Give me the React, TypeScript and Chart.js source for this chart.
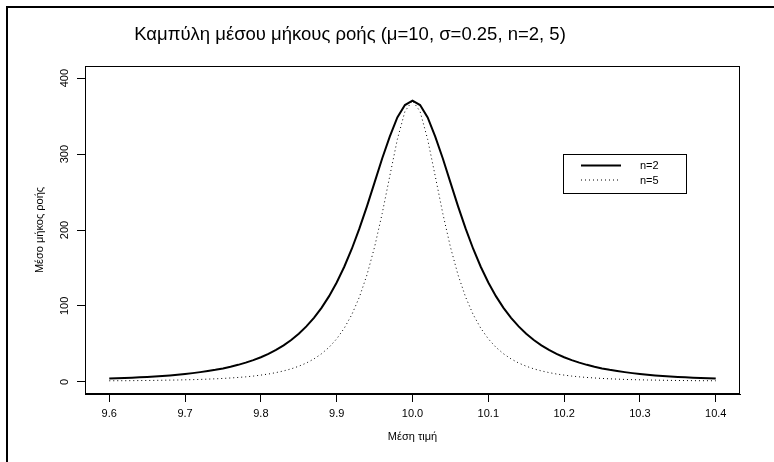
import React, { useEffect, useRef } from "react";
import { Chart, registerables } from "chart.js";

Chart.register(...registerables);

const chartTitle = "Καμπύλη μέσου μήκους ροής (μ=10, σ=0.25, n=2, 5)";
const xAxisTitle = "Μέση τιμή";
const yAxisTitle = "Μέσο μήκος ροής";
const seriesLabels = ["n=2", "n=5"];

// process mean grid (x), 9.60 .. 10.40
const meanValues = Array.from({ length: 81 }, (_, i) => +(9.6 + i * 0.01).toFixed(2));

const arlN2 = [
  4.3, 4.7, 5.1, 5.5, 6.0, 6.5, 7.1, 7.8, 8.5, 9.4, 10.4, 11.5, 12.8, 14.2, 15.8, 17.7, 19.9, 22.4, 25.3, 28.6,
  32.4, 36.9, 42.1, 48.1, 55.1, 63.4, 73.0, 84.3, 97.5, 112.9, 130.9, 151.6, 175.3, 202.1, 231.5, 262.7, 294.2, 322.9, 348.3, 364.6,
  370.4,
  364.6, 348.3, 322.9, 294.2, 262.7, 231.5, 202.1, 175.3, 151.6, 130.9, 112.9, 97.5, 84.3, 73.0, 63.4, 55.1, 48.1, 42.1, 36.9, 32.4,
  28.6, 25.3, 22.4, 19.9, 17.7, 15.8, 14.2, 12.8, 11.5, 10.4, 9.4, 8.5, 7.8, 7.1, 6.5, 6.0, 5.5, 5.1, 4.7, 4.3,
];

const arlN5 = [
  1.4, 1.5, 1.5, 1.6, 1.7, 1.8, 1.9, 2.1, 2.3, 2.4, 2.7, 2.9, 3.2, 3.6, 4.0, 4.5, 5.1, 5.8, 6.6, 7.6,
  8.9, 10.3, 12.2, 14.4, 17.1, 20.6, 24.8, 30.2, 37.0, 45.6, 56.6, 70.7, 88.7, 111.8, 141.1, 177.7, 221.6, 270.9, 319.3, 356.1,
  370.4,
  356.1, 319.3, 270.9, 221.6, 177.7, 141.1, 111.8, 88.7, 70.7, 56.6, 45.6, 37.0, 30.2, 24.8, 20.6, 17.1, 14.4, 12.2, 10.3, 8.9,
  7.6, 6.6, 5.8, 5.1, 4.5, 4.0, 3.6, 3.2, 2.9, 2.7, 2.4, 2.3, 2.1, 1.9, 1.8, 1.7, 1.6, 1.5, 1.5, 1.4,
];

const xTicks = [9.6, 9.7, 9.8, 9.9, 10.0, 10.1, 10.2, 10.3, 10.4];
const yTicks = [0, 100, 200, 300, 400];

const FONT = '"Liberation Sans", Arial, sans-serif';

const decorPlugin = {
  id: "decor",
  afterDraw(chart: any) {
    const ctx = chart.ctx;
    const ca = chart.chartArea;
    ctx.save();
    // outer frame
    ctx.fillStyle = "#000";
    ctx.fillRect(6, 6, 2, 462);
    ctx.fillRect(6, 6, 774, 2);
    // plot box
    ctx.strokeStyle = "#000";
    ctx.lineWidth = 1;
    ctx.setLineDash([]);
    ctx.strokeRect(Math.round(ca.left) + 0.5, Math.round(ca.top) + 0.5, Math.round(ca.right - ca.left) - 1, Math.round(ca.bottom - ca.top) - 1);
    // title
    ctx.fillStyle = "#000";
    ctx.font = `18.5px ${FONT}`;
    ctx.textAlign = "center";
    ctx.textBaseline = "middle";
    ctx.fillText(chartTitle, 350, 35);
    // legend
    const lx = 563.5, ly = 154.5, lw = 123, lh = 39;
    ctx.fillStyle = "#fff";
    ctx.fillRect(lx, ly, lw, lh);
    ctx.strokeStyle = "#000";
    ctx.lineWidth = 1;
    ctx.strokeRect(lx, ly, lw, lh);
    const dsets = chart.data.datasets;
    const rows = [165.5, 180];
    dsets.forEach((ds: any, i: number) => {
      ctx.strokeStyle = ds.borderColor;
      ctx.lineWidth = ds.borderWidth;
      ctx.setLineDash(ds.borderDash || []);
      ctx.beginPath();
      ctx.moveTo(581, rows[i]);
      ctx.lineTo(621, rows[i]);
      ctx.stroke();
      ctx.setLineDash([]);
      ctx.fillStyle = "#000";
      ctx.font = `11px ${FONT}`;
      ctx.textAlign = "left";
      ctx.textBaseline = "middle";
      ctx.fillText(ds.label, 640, rows[i] + 0.5);
    });
    ctx.restore();
  },
};

export default function App() {
  const ref = useRef<HTMLCanvasElement | null>(null);
  useEffect(() => {
    if (!ref.current) return;
    const chart = new Chart(ref.current, {
      type: "line",
      data: {
        datasets: [
          {
            label: seriesLabels[0],
            data: meanValues.map((x, i) => ({ x, y: arlN2[i] })),
            borderColor: "#000",
            borderWidth: 2,
            pointRadius: 0,
            tension: 0,
            fill: false,
          },
          {
            label: seriesLabels[1],
            data: meanValues.map((x, i) => ({ x, y: arlN5[i] })),
            borderColor: "#000",
            borderWidth: 1,
            borderDash: [1, 3],
            pointRadius: 0,
            tension: 0,
            fill: false,
          },
        ],
      },
      options: {
        responsive: false,
        animation: false,
        devicePixelRatio: 1,
        layout: { padding: { left: 0, top: 66, right: 34, bottom: 0 } },
        plugins: { legend: { display: false }, title: { display: false }, tooltip: { enabled: false } },
        scales: {
          x: {
            type: "linear",
            min: 9.568,
            max: 10.432,
            bounds: "data",
            afterBuildTicks: (s: any) => {
              s.ticks = xTicks.map((v) => ({ value: v }));
            },
            afterFit: (s: any) => {
              s.height = 68;
            },
            ticks: {
              autoSkip: false,
              maxRotation: 0,
              minRotation: 0,
              color: "#000",
              padding: 5,
              font: { family: FONT, size: 11 },
              callback: (v: any) => Number(v).toFixed(1),
            },
            grid: { display: true, drawOnChartArea: false, drawTicks: true, tickLength: 8, color: "#000", lineWidth: 1 },
            border: { display: true, color: "#000", width: 1 },
            title: { display: true, text: xAxisTitle, color: "#000", font: { family: FONT, size: 11 }, padding: { top: 0, bottom: 18 } },
          },
          y: {
            type: "linear",
            min: -16,
            max: 416,
            bounds: "data",
            afterBuildTicks: (s: any) => {
              s.ticks = yTicks.map((v) => ({ value: v }));
            },
            afterFit: (s: any) => {
              s.width = 85;
            },
            ticks: {
              autoSkip: false,
              minRotation: 90,
              maxRotation: 90,
              crossAlign: "center",
              color: "#000",
              padding: 3,
              font: { family: FONT, size: 11 },
            },
            grid: { display: true, drawOnChartArea: false, drawTicks: true, tickLength: 8, color: "#000", lineWidth: 1 },
            border: { display: true, color: "#000", width: 1 },
            title: { display: true, text: yAxisTitle, color: "#000", font: { family: FONT, size: 11 }, padding: { top: 33, bottom: 0 } },
          },
        },
      },
      plugins: [decorPlugin],
    } as any);
    return () => chart.destroy();
  }, []);
  return (
    <div style={{ position: "fixed", left: 0, top: 0, width: 774, height: 462, background: "#fff" }}>
      <canvas ref={ref} width={774} height={462} style={{ display: "block", width: 774, height: 462 }} />
    </div>
  );
}
